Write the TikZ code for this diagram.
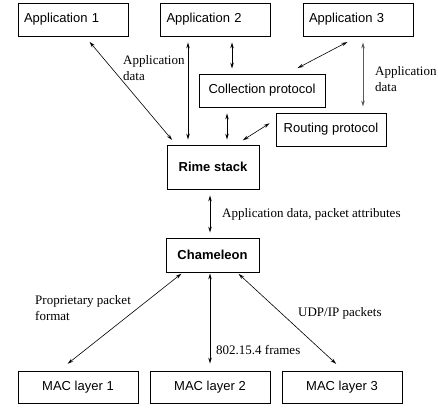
\documentclass[tikz,border=0pt]{standalone}
\usepackage{fontspec}
\setmainfont{Liberation Serif}
\setsansfont{Liberation Sans}
\usetikzlibrary{arrows.meta}

\begin{document}
\begin{tikzpicture}[x=1pt, y=-1pt,
    box/.style={draw, line width=0.8pt, inner sep=0pt, font=\sffamily\fontsize{13}{16}\selectfont},
    appbox/.style={box, minimum height=33pt, text width=98pt, inner xsep=6pt, align=left},
    twoway/.style={{Stealth[open,length=6pt,width=3.5pt]}-{Stealth[open,length=6pt,width=3.5pt]}, line width=0.6pt},
    lbl/.style={anchor=base west, inner sep=0pt, align=left, font=\fontsize{13}{16}\selectfont}]
    \useasboundingbox (0,0) rectangle (438,407);
    \node[appbox] (app1) at (73,19.5) {Application 1};
    \node[appbox] (app2) at (215.5,19.5) {Application 2};
    \node[appbox] (app3) at (358,19.5) {Application 3};
    \node[box, minimum width=126pt, minimum height=33pt] (coll) at (262,90.5) {Collection protocol};
    \node[box, minimum width=110pt, minimum height=33pt] (rout) at (331,129.5) {Routing protocol};
    \node[box, minimum width=92pt, minimum height=44pt, font=\sffamily\bfseries\fontsize{13}{16}\selectfont] (rime) at (213,167) {Rime stack};
    \node[box, minimum width=93pt, minimum height=34pt, font=\sffamily\bfseries\fontsize{13}{16}\selectfont] (cham) at (212.5,255) {Chameleon};
    \node[box, minimum width=120pt, minimum height=32pt] (mac1) at (78,387) {MAC layer 1};
    \node[box, minimum width=120pt, minimum height=32pt] (mac2) at (210,387) {MAC layer 2};
    \node[box, minimum width=120pt, minimum height=32pt] (mac3) at (342,387) {MAC layer 3};

    % upper half
    \draw[twoway, shorten <=7pt, shorten >=6pt] ([xshift=12pt]app1.south) -- ([xshift=-37pt]rime.north);
    \draw[twoway, shorten <=6pt, shorten >=5pt] ([xshift=-25pt]rime.north |- app2.south) -- ([xshift=-25pt]rime.north);
    \draw[twoway, shorten <=6pt, shorten >=5pt] ([xshift=-30pt]coll.north |- app2.south) -- ([xshift=-30pt]coll.north);
    \draw[twoway, shorten <=12pt, shorten >=12pt] (app3.south) -- ([xshift=25pt]coll.north);
    \draw[twoway, black!65, line width=1pt, shorten <=6pt, shorten >=6pt] ([xshift=5pt]app3.south) -- ([xshift=5pt]app3.south |- rout.north);
    \draw[twoway, shorten <=6pt, shorten >=5pt] ([xshift=14pt]rime.north |- coll.south) -- ([xshift=14pt]rime.north);
    \draw[twoway, shorten <=7pt, shorten >=8pt] ([yshift=10pt]rout.west) -- ([xshift=23pt]rime.north);
    \node[lbl] (lblapp1) at (123,80) {Application\\data};
    \node[lbl] (lblapp3) at (375,91) {Application\\data};

    % lower half
    \draw[twoway, shorten <=6pt, shorten >=5pt] ([xshift=-3pt]rime.south) -- ([xshift=-3pt]rime.south |- cham.north);
    \draw[twoway, shorten <=2pt, shorten >=11pt] ([xshift=-29.5pt]cham.south) -- ([xshift=-19pt]mac1.north);
    \draw[twoway, shorten <=1pt, shorten >=7pt] (mac2.north |- cham.south) -- (mac2.north);
    \draw[twoway, shorten <=2pt, shorten >=10pt] ([xshift=24.5pt]cham.south) -- ([xshift=1.5pt]mac3.north);
    \node[lbl] (lblcham) at (222,217) {Application data, packet attributes};
    \node[lbl] (lblmac1) at (35,320) {Proprietary packet\\format};
    \node[lbl] (lblmac2) at (216,354) {802.15.4 frames};
    \node[lbl] (lblmac3) at (298,316) {UDP/IP packets};
\end{tikzpicture}
\end{document}
